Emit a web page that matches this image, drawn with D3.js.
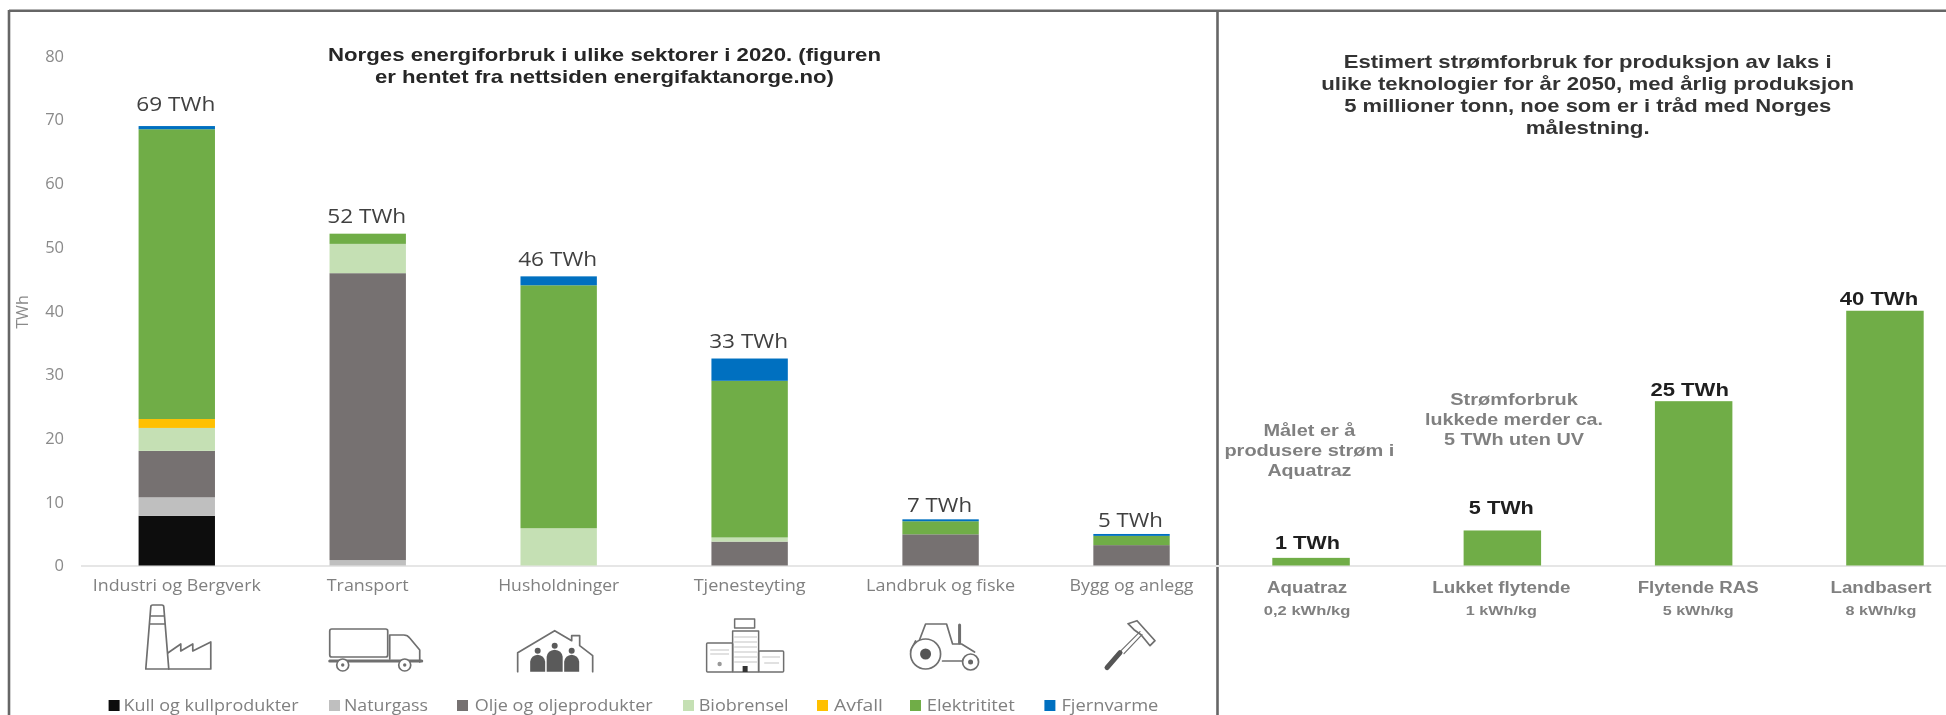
<!DOCTYPE html>
<html><head><meta charset="utf-8">
<script src="https://cdn.jsdelivr.net/npm/d3@7/dist/d3.min.js"></script>
<style>
html,body{margin:0;padding:0;background:#fff;overflow:hidden}
svg{display:block;filter:blur(0.55px)}
.soft{font-family:"Open Sans",sans-serif}
.hard{font-family:"Liberation Sans",Arial,sans-serif}
</style></head><body>
<svg id="c" width="1946" height="715"></svg>
<script>
// ---- data ----
const sectors = ["Industri og Bergverk","Transport","Husholdninger","Tjenesteyting","Landbruk og fiske","Bygg og anlegg"];
const sources = ["Kull og kullprodukter","Naturgass","Olje og oljeprodukter","Biobrensel","Avfall","Elektritet","Fjernvarme"];
const legendNames = ["Kull og kullprodukter","Naturgass","Olje og oljeprodukter","Biobrensel","Avfall","Elektrititet","Fjernvarme"];
const coal  = [7.8,0,0,0,0,0];
const gas   = [2.9,0.85,0,0,0,0];
const oil   = [7.3,45.05,0,3.75,4.9,3.2];
const bio   = [3.6,4.6,5.85,0.65,0,0];
const waste = [1.4,0,0,0,0,0];
const elec  = [45.5,1.6,38.15,24.6,2.05,1.45];
const heat  = [0.5,0,1.4,3.5,0.3,0.3];
const totalsText = ["69 TWh","52 TWh","46 TWh","33 TWh","7 TWh","5 TWh"];
const yTicks = [0,10,20,30,40,50,60,70,80];
const tech = ["Aquatraz","Lukket flytende","Flytende RAS","Landbasert"];
const techValues = [1.2,5.5,25.8,40];
const techText = ["1 TWh","5 TWh","25 TWh","40 TWh"];
const techSub = ["0,2 kWh/kg","1 kWh/kg","5 kWh/kg","8 kWh/kg"];
const titleLeft = ["Norges energiforbruk i ulike sektorer i 2020. (figuren","er hentet fra nettsiden energifaktanorge.no)"];
const titleRight = ["Estimert strømforbruk for produksjon av laks i","ulike teknologier for år 2050, med årlig produksjon","5 millioner tonn, noe som er i tråd med Norges","målestning."];
const noteA = ["Målet er å","produsere strøm i","Aquatraz"];
const noteB = ["Strømforbruk","lukkede merder ca.","5 TWh uten UV"];

// ---- layout / style (separate from data) ----
const colors = ["#0d0d0d","#bfbfbf","#767171","#c5e0b4","#ffc000","#70ad47","#0070c0"];
const series = [coal,gas,oil,bio,waste,elec,heat];
const labelLift = [22,18,17,17,14,14];
const labelW = [79,79,79,79,65,65];
const catW = [168,82,121,112,149,124];
const techNudge = [-4,-1,4.5,-4];
const techLift = [15,23,12,12];
const techValNudge = [-3.5,-1,-4,-6];
const legendPos = [[108.6,123.5,175],[329,344,84],[457,474.7,178],[683,698.7,90],[817,834,49],[910,926.7,88],[1044.4,1061.4,97]];

const svg = d3.select("#c");
const y = d3.scaleLinear().domain([0,80]).range([565.5,56]);
const x = d3.scaleBand().domain(sectors).range([81.3,1227]).paddingInner(0.6).paddingOuter(0.3);
const x2 = d3.scaleBand().domain(tech).range([1215.4,1980.6]).paddingInner(0.595).paddingOuter(0.2975);

// frame
const frame = svg.append("g").attr("stroke","#666").attr("stroke-width",2.6).attr("fill","none");
frame.append("line").attr("x1",9).attr("x2",1946).attr("y1",10.7).attr("y2",10.7);
frame.append("line").attr("x1",9).attr("x2",9).attr("y1",10).attr("y2",715);
frame.append("line").attr("x1",1217.5).attr("x2",1217.5).attr("y1",10).attr("y2",715);

// baseline
svg.append("line").attr("x1",81).attr("x2",1946).attr("y1",566).attr("y2",566).attr("stroke","#e6e6e6").attr("stroke-width",2);

// y axis
const ya = svg.append("g").attr("class","soft").attr("transform","translate(81,0)")
  .call(d3.axisLeft(y).tickValues(yTicks).tickSize(0).tickPadding(17));
ya.select(".domain").remove();
ya.selectAll("text").attr("font-size",16.5).attr("font-family","Open Sans").attr("fill","#8a8a8a");
svg.append("text").attr("class","soft").attr("transform","translate(22.5,312) rotate(-90)")
  .attr("text-anchor","middle").attr("dy","0.35em").attr("font-size",16).attr("fill","#8a8a8a").text("TWh");

// stacked bars
const rows = sectors.map((s,i)=>{const r={sector:s};sources.forEach((k,j)=>r[k]=series[j][i]);return r;});
const stacked = d3.stack().keys(sources)(rows);
svg.append("g").selectAll("g").data(stacked).join("g").attr("fill",(d,i)=>colors[i])
  .selectAll("rect").data(d=>d).join("rect")
  .attr("x",d=>x(d.data.sector)).attr("width",x.bandwidth())
  .attr("y",d=>y(d[1])).attr("height",d=>y(d[0])-y(d[1]));

// totals
const tops = sectors.map((s,i)=>d3.sum(series,a=>a[i]));
svg.append("g").attr("class","soft").selectAll("text").data(totalsText).join("text")
  .attr("x",(d,i)=>x(sectors[i])+x.bandwidth()/2-1).attr("y",(d,i)=>y(tops[i])-labelLift[i])
  .attr("dy","0.35em").attr("text-anchor","middle").attr("font-size",19.5).attr("fill","#404040")
  .attr("textLength",(d,i)=>labelW[i]).attr("lengthAdjust","spacingAndGlyphs").text(d=>d);

// category axis left
const xa = svg.append("g").attr("class","soft").attr("transform","translate(0,566)")
  .call(d3.axisBottom(x).tickSize(0).tickPadding(14));
xa.select(".domain").remove();
xa.selectAll("text").attr("font-size",16).attr("font-family","Open Sans").attr("fill","#808080")
  .attr("textLength",(d,i)=>catW[i]).attr("lengthAdjust","spacingAndGlyphs");

// legend
const lg = svg.append("g").attr("class","soft");
lg.selectAll("rect").data(legendNames).join("rect").attr("x",(d,i)=>legendPos[i][0]).attr("y",700)
  .attr("width",11).attr("height",11).attr("fill",(d,i)=>colors[i]);
lg.selectAll("text").data(legendNames).join("text").attr("x",(d,i)=>legendPos[i][1]).attr("y",705.5)
  .attr("dy","0.35em").attr("font-size",16).attr("fill","#808080")
  .attr("textLength",(d,i)=>legendPos[i][2]).attr("lengthAdjust","spacingAndGlyphs").text(d=>d);

// text blocks
function lines(arr,cx,y0,dy,size,weight,fill,widths){
  const g=svg.append("g").attr("class","hard");
  g.selectAll("text").data(arr).join("text").attr("x",cx).attr("y",(d,i)=>y0+i*dy)
   .attr("dy","0.35em").attr("text-anchor","middle").attr("font-size",size).attr("font-weight",weight).attr("fill",fill)
   .each(function(d,i){ if(widths) d3.select(this).attr("textLength",widths[i]).attr("lengthAdjust","spacingAndGlyphs"); })
   .text(d=>d);
}
lines(titleLeft,604.5,55,21.7,18.5,"bold","#262626",[553,459]);
lines(titleRight,1587.7,61.7,22,18.5,"bold","#333",[488,533,487,124]);
lines(noteA,1309.4,430,20,16.5,"bold","#808080",[92,170,84]);
lines(noteB,1514,399.7,20,16.5,"bold","#808080",[127.5,178,140]);

// right bars
svg.append("g").attr("fill","#70ad47").selectAll("rect").data(tech).join("rect")
  .attr("x",d=>x2(d)).attr("width",x2.bandwidth())
  .attr("y",(d,i)=>y(techValues[i])).attr("height",(d,i)=>y(0)-y(techValues[i]));
svg.append("g").attr("class","hard").selectAll("text").data(techText).join("text")
  .attr("x",(d,i)=>x2(tech[i])+x2.bandwidth()/2+techValNudge[i]).attr("y",(d,i)=>y(techValues[i])-techLift[i])
  .attr("dy","0.35em").attr("text-anchor","middle").attr("font-size",18.5).attr("font-weight","bold").attr("fill","#1f1f1f")
  .attr("textLength",(d,i)=>[65,65,78.5,78.5][i]).attr("lengthAdjust","spacingAndGlyphs").text(d=>d);

// right category axis and sub labels
const xb = svg.append("g").attr("class","hard").attr("transform","translate(0,566)")
  .call(d3.axisBottom(x2).tickSize(0).tickPadding(16));
xb.select(".domain").remove();
xb.selectAll("text").attr("font-size",16).attr("font-weight","bold").attr("font-family","Liberation Sans").attr("fill","#808080")
  .attr("dx",(d,i)=>techNudge[i]).attr("textLength",(d,i)=>[80,138,121,101][i]).attr("lengthAdjust","spacingAndGlyphs");
svg.append("g").attr("class","hard").selectAll("text").data(techSub).join("text")
  .attr("x",(d,i)=>x2(tech[i])+x2.bandwidth()/2+techNudge[i]).attr("y",610.7).attr("dy","0.35em")
  .attr("text-anchor","middle").attr("font-size",13.5).attr("font-weight","bold").attr("fill","#808080")
  .attr("textLength",(d,i)=>[86.6,71,71,71][i]).attr("lengthAdjust","spacingAndGlyphs").text(d=>d);

// icons, drawn relative to each sector's band
const ic = "#6f6f6f";
function icon(name,ox,oy){
  return svg.append("g").attr("transform",`translate(${x(name)+x.bandwidth()/2+ox},${oy})`)
    .attr("fill","none").attr("stroke",ic).attr("stroke-width",1.7).attr("stroke-linejoin","round").attr("stroke-linecap","round");
}
// factory
let g=icon(sectors[0],-31,605);
g.append("path").attr("d","M0 64L5 2Q5 0 7 0H16Q18 0 18 2L23 64ZM4.3 11H18.7M3.6 19H19.4");
g.append("path").attr("d","M22 48L35 39V46L47 39V46L65 37V64H23");
// truck
g=icon(sectors[1],-38,629);
g.append("rect").attr("x",0).attr("y",0).attr("width",58).attr("height",28).attr("rx",2);
g.append("path").attr("d","M60 6H74Q78 6 80 9L90 21V33M60 6V30");
g.append("path").attr("d","M0 32H92").attr("stroke-width",3);
[13,75].forEach(c=>{g.append("circle").attr("cx",c).attr("cy",36).attr("r",6).attr("fill","#fff");
  g.append("circle").attr("cx",c).attr("cy",36).attr("r",1.7).attr("fill",ic).attr("stroke","none");});
// house
g=icon(sectors[2],-42,630.7);
g.append("path").attr("d","M1 41V22L38 0L55 10V5H63V15L76 25V41");
[[21,20,6.5],[38,15,7],[55,20,6.5]].forEach(([c,t,w])=>{
  g.append("circle").attr("cx",c).attr("cy",t).attr("r",3).attr("fill","#5a5a5a").attr("stroke","none");
  g.append("path").attr("d",`M${c-w-1} 41V${t+11}Q${c-w} ${t+4.5} ${c} ${t+4}Q${c+w} ${t+4.5} ${c+w+1} ${t+11}V41Z`).attr("fill","#5a5a5a").attr("stroke","none");
});
// buildings
g=icon(sectors[3],-43,619).attr("stroke-width",1.5);
g.append("rect").attr("x",26).attr("y",12).attr("width",26).attr("height",41);
g.append("rect").attr("x",28).attr("y",0).attr("width",20).attr("height",9);
g.append("rect").attr("x",0).attr("y",24).attr("width",26).attr("height",29).attr("rx",1);
g.append("rect").attr("x",52).attr("y",32).attr("width",25).attr("height",21).attr("rx",1);
g.append("path").attr("stroke-width",0.7).attr("stroke","#aaa").attr("d","M28 18H50M28 23H50M28 28H50M28 33H50M28 38H50M28 43H50M4 31H22M4 35H22M56 38H73M58 44H72");
g.append("rect").attr("x",36).attr("y",47).attr("width",5).attr("height",6).attr("fill","#333").attr("stroke","none");
g.append("circle").attr("cx",13).attr("cy",45).attr("r",2.2).attr("fill","#999").attr("stroke","none");
// tractor
g=icon(sectors[4],-32,623);
g.append("path").attr("d","M9 22L17 1H38L44 21H53L66 29M34 38H54M7 18L2 28");
g.append("path").attr("d","M51 2V20").attr("stroke-width",3);
g.append("circle").attr("cx",17).attr("cy",31).attr("r",15).attr("fill","#fff");
g.append("circle").attr("cx",17).attr("cy",31).attr("r",5.5).attr("fill","#555").attr("stroke","none");
g.append("circle").attr("cx",62).attr("cy",39).attr("r",8).attr("fill","#fff");
g.append("circle").attr("cx",62).attr("cy",39).attr("r",2.5).attr("fill","#666").attr("stroke","none");
// hammer
g=icon(sectors[5],-27.5,620.7);
g.append("path").attr("d","M3 47L16 32").attr("stroke-width",5).attr("stroke","#555");
g.append("path").attr("d","M17 30L36 11M20 33L38 14").attr("stroke-width",1.2);
g.append("path").attr("d","M24 3L33 0L51 20L46 25L37 14L30 9Z");
</script>
</body></html>
